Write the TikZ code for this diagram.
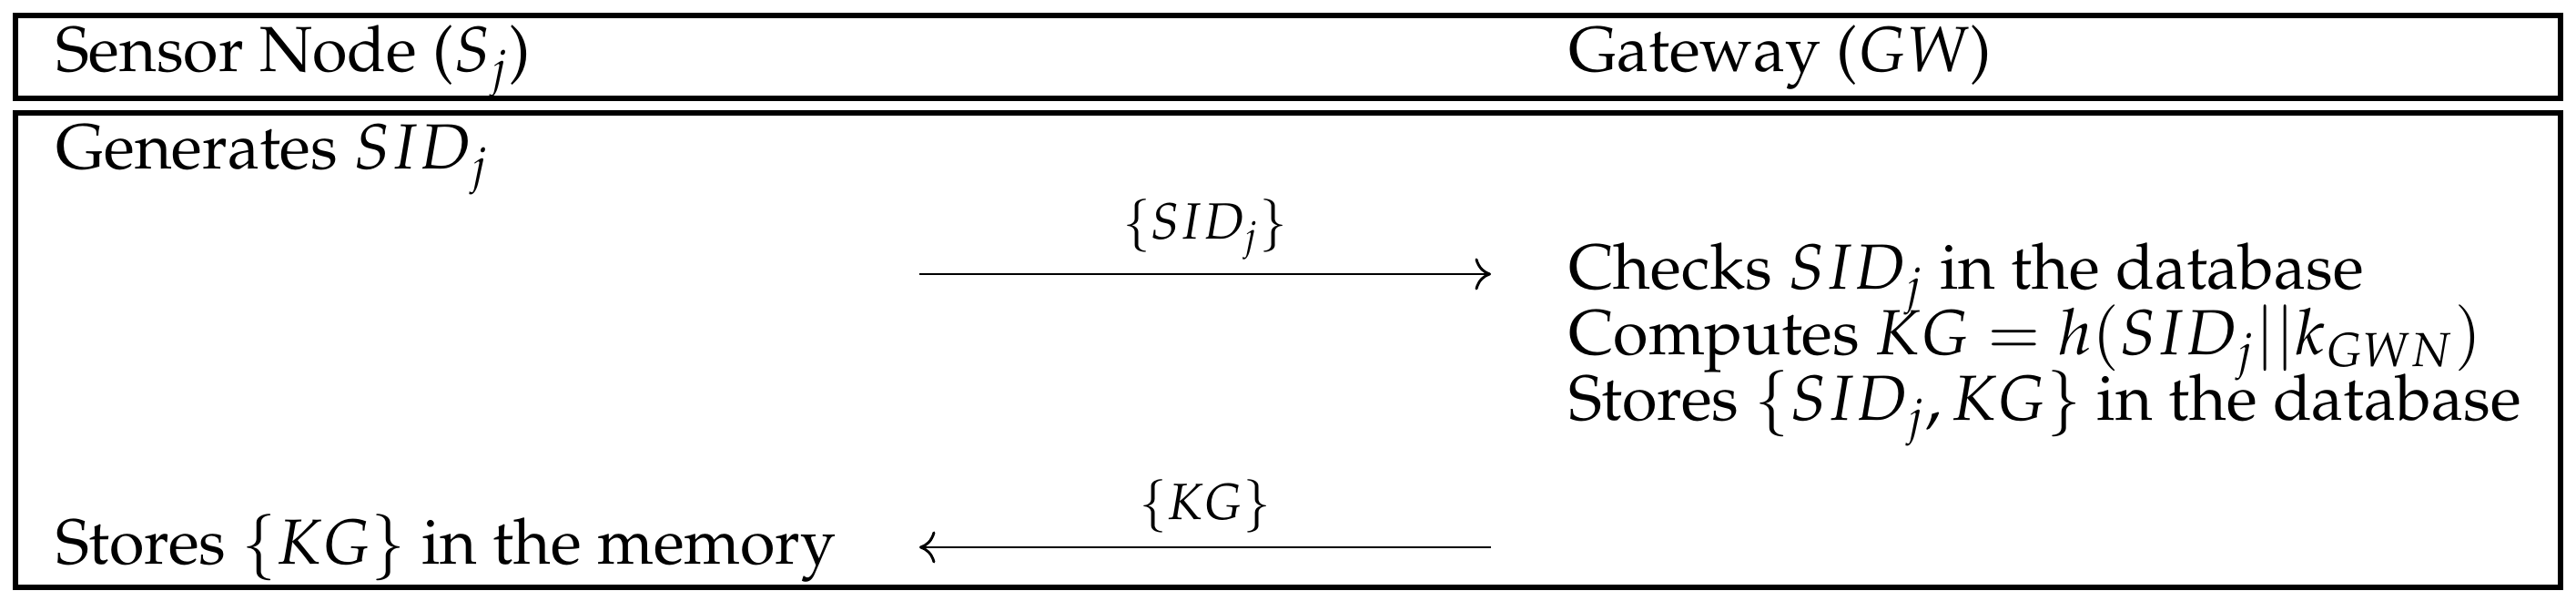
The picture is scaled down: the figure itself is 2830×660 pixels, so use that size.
\documentclass[tikz,border=0pt]{standalone}
\usepackage[T1]{fontenc}
\usepackage{amsmath,amssymb}
\usepackage{mathpazo}
\usetikzlibrary{positioning,arrows.meta}

\begin{document}
\begin{tikzpicture}[>={Computer Modern Rightarrow[width=6pt,length=3pt]}, x=0.1714pt, y=-0.1714pt,
  txt/.style={anchor=base west, inner sep=0pt, font=\fontsize{12}{14.4}\selectfont},
  msg/.style={font=\fontsize{9.6}{12}\selectfont, inner sep=2.5pt}]

\useasboundingbox (0,0) rectangle (2830,660);

% frames
\draw[line width=0.9pt] (17,17) rectangle (2813,108);
\draw[line width=0.9pt] (17,124) rectangle (2813,645);

% headers
\node[txt] (sn) at (60,79) {Sensor Node ($S_j$)};
\node[txt] (gw) at (1722,79) {Gateway ($GW$)};

% sensor side
\node[txt] (gen) at (60,186) {Generates $SID_j$};
\node[txt] (mem) at (60,620) {Stores $\{KG\}$ in the memory};

% gateway side
\node[txt] (chk) at (1722,318) {Checks $SID_j$ in the database};
\node[txt] (cmp) at (1722,390) {Computes $KG = h(SID_j||k_{GWN})$};
\node[txt] (sto) at (1722,462) {Stores $\{SID_j, KG\}$ in the database};

% messages
\coordinate (m1a) at (1010,301);
\coordinate (m1b) at (1638,301);
\coordinate (m2a) at (1638,601);
\coordinate (m2b) at (1010,601);

\draw[->, line width=0.5pt] (m1a) -- node[msg, above] (l1) {$\{SID_j\}$} (m1b);
\draw[->, line width=0.5pt] (m2a) -- node[msg, above] (l2) {$\{KG\}$} (m2b);

\end{tikzpicture}
\end{document}
